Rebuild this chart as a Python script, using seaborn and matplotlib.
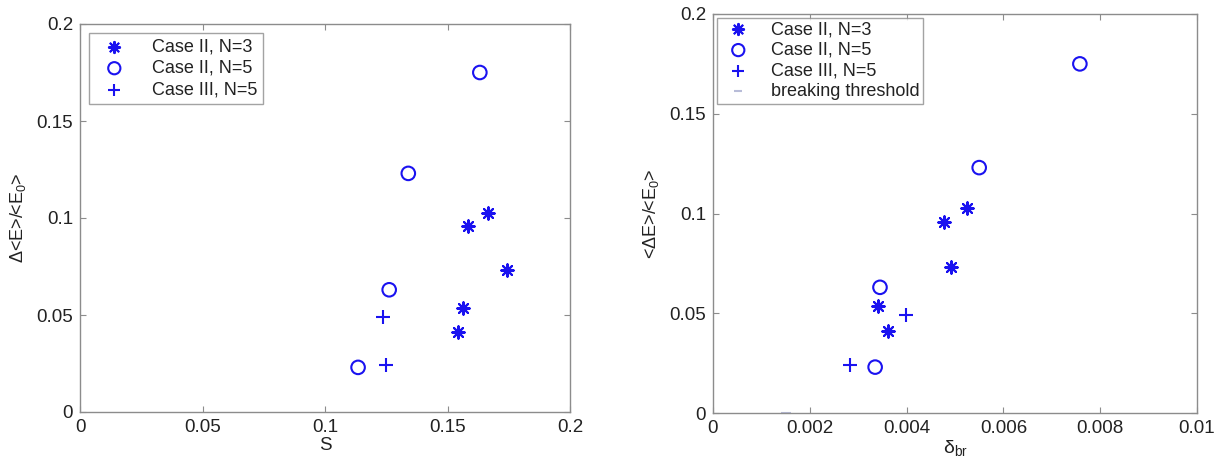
import numpy as np
import pandas as pd
import matplotlib
matplotlib.use("Agg")
import matplotlib.pyplot as plt
import seaborn as sns

# energy loss ratio (shared by both panels)
y_case2_n3 = [0.1026, 0.0959, 0.0732, 0.0536, 0.0412]
y_case2_n5 = [0.1750, 0.1230, 0.0630, 0.0230]
y_case3_n5 = [0.0490, 0.0240]

# steepness S (left panel)
s_case2_n3 = [0.1666, 0.1583, 0.1744, 0.1562, 0.1544]
s_case2_n5 = [0.1632, 0.1340, 0.1262, 0.1135]
s_case3_n5 = [0.1235, 0.1250]

# delta_br (right panel)
d_case2_n3 = [0.00524, 0.00477, 0.00492, 0.00340, 0.00361]
d_case2_n5 = [0.00758, 0.00550, 0.00345, 0.00335]
d_case3_n5 = [0.00398, 0.00283]
d_threshold = [0.0015]
y_threshold = [0.0]

labels = ["Case II, N=3", "Case II, N=5", "Case III, N=5"]
blue = "#1a12f0"
grey = "#8c8c8c"

sns.set_style("white")
plt.rcParams['font.family'] = ['Liberation Sans', 'DejaVu Sans']
plt.rcParams['mathtext.fontset'] = 'custom'
plt.rcParams['mathtext.rm'] = 'Liberation Sans'
plt.rcParams['mathtext.it'] = 'Liberation Sans'

fig = plt.figure(figsize=(12.22, 4.70), dpi=100)
ax1 = fig.add_axes([80 / 1222, 58 / 470, 490 / 1222, 388 / 470])
ax2 = fig.add_axes([713 / 1222, 57 / 470, 484 / 1222, 399 / 470])

star = (8, 2, 0)


def draw(ax, xs, show_thresh=False):
    sns.scatterplot(x=xs[0], y=y_case2_n3, ax=ax, marker=star, s=80,
                    color=blue, linewidth=1.5, label=labels[0])
    sns.scatterplot(x=xs[1], y=y_case2_n5, ax=ax, marker="o", s=95,
                    facecolor="none", edgecolor=blue, linewidth=1.5, label=labels[1])
    sns.scatterplot(x=xs[2], y=y_case3_n5, ax=ax, marker="+", s=95,
                    color=blue, linewidth=1.5, label=labels[2])
    if show_thresh:
        sns.scatterplot(x=d_threshold, y=y_threshold, ax=ax, marker="_", s=50,
                        color="#b8bcd8", linewidth=1.5, label="breaking threshold",
                        clip_on=False)


draw(ax1, [s_case2_n3, s_case2_n5, s_case3_n5])
draw(ax2, [d_case2_n3, d_case2_n5, d_case3_n5], show_thresh=True)

for ax in (ax1, ax2):
    ax.set_ylim(0, 0.2)
    ax.set_yticks([0, 0.05, 0.1, 0.15, 0.2])
    ax.set_yticklabels(["0", "0.05", "0.1", "0.15", "0.2"])
    for sp in ax.spines.values():
        sp.set_color(grey)
        sp.set_linewidth(1.0)
    ax.tick_params(direction="in", length=4, width=0.8, color=grey, labelsize=13.5,
                   labelcolor="#222222", pad=5, top=True, right=True,
                   bottom=True, left=True)

leg1 = ax1.legend(loc="upper left", frameon=True, fancybox=False, fontsize=13,
                  handletextpad=1.0, borderpad=0.3, labelspacing=0.25,
                  borderaxespad=0.5, markerscale=0.9, handlelength=2.2)
leg2 = ax2.legend(loc="upper left", frameon=True, fancybox=False, fontsize=13,
                  handletextpad=0.8, borderpad=0.2, labelspacing=0.2,
                  borderaxespad=0.2, markerscale=0.9, handlelength=2.0)
for leg in (leg1, leg2):
    leg.get_frame().set_edgecolor(grey)
    leg.get_frame().set_linewidth(1.0)
    for t in leg.get_texts():
        t.set_color("#222222")

ax1.set_xlim(0, 0.2)
ax1.set_xticks([0, 0.05, 0.1, 0.15, 0.2])
ax1.set_xticklabels(["0", "0.05", "0.1", "0.15", "0.2"])
ax1.set_xlabel("S", fontsize=13.5, color="#222222", labelpad=1)
ax1.set_ylabel("Δ<E>/<E$_0$>", fontsize=13, color="#222222", labelpad=6)

ax2.set_xlim(0, 0.01)
ax2.set_xticks([0, 0.002, 0.004, 0.006, 0.008, 0.01])
ax2.set_xticklabels(["0", "0.002", "0.004", "0.006", "0.008", "0.01"])
ax2.set_xlabel("δ$_{br}$", fontsize=14, color="#222222", labelpad=1)
ax2.set_ylabel("<ΔE>/<E$_0$>", fontsize=13, color="#222222", labelpad=6)

fig.savefig("out.png", dpi=100)
